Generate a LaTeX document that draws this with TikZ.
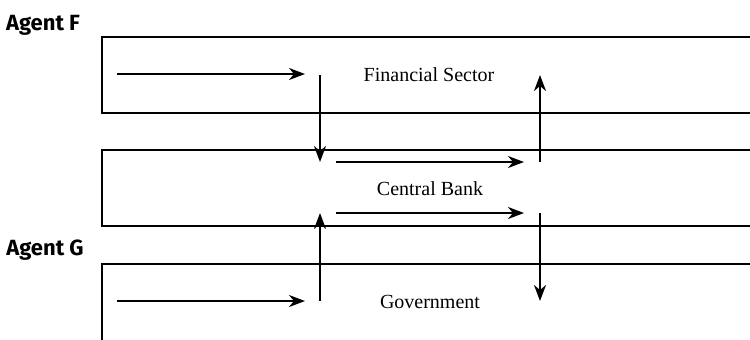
\documentclass[tikz,border=0pt]{standalone}
\usepackage{fontspec}
\setmainfont{Liberation Serif}
\newfontfamily\agentfont{Fira Sans}
\usetikzlibrary{arrows.meta}

\begin{document}
\begin{tikzpicture}[x=0.5pt, y=-0.5pt,
  band/.style={line width=0.7pt},
  flow/.style={line width=1pt, -{Stealth[length=8pt, width=6pt, inset=2.5pt]}},
  sector/.style={anchor=base, font=\fontsize{10}{12}\selectfont},
  agent/.style={anchor=base, font=\agentfont\bfseries\fontsize{11}{13}\selectfont}]
  \useasboundingbox (0,0) rectangle (750,339);

  % sector bands
  \draw[band] (752,37) -| (102,113) -- (752,113);
  \draw[band] (752,150) -| (102,226) -- (752,226);
  \draw[band] (752,264) -| (102,341);

  \node[agent] (agentF) at (43,30) {Agent F};
  \node[agent] (agentG) at (45,255) {Agent G};
  \node[sector] (fin) at (429,81) {Financial Sector};
  \node[sector] (cb) at (430,195) {Central Bank};
  \node[sector] (gov) at (430,308) {Government};

  \coordinate (f1) at (117,74);  \coordinate (f2) at (305,74);
  \coordinate (d1) at (320,75);  \coordinate (d2) at (320,162);
  \coordinate (c1) at (336,162); \coordinate (c2) at (524,162);
  \coordinate (u1) at (540,162); \coordinate (u2) at (540,75);
  \coordinate (c3) at (336,213); \coordinate (c4) at (524,213);
  \coordinate (u3) at (320,301); \coordinate (u4) at (320,213);
  \coordinate (d3) at (540,213); \coordinate (d4) at (540,301);
  \coordinate (g1) at (117,301); \coordinate (g2) at (305,301);

  \draw[flow] (f1) -- (f2);
  \draw[flow] (d1) -- (d2);
  \draw[flow] (c1) -- (c2);
  \draw[flow] (u1) -- (u2);
  \draw[flow] (c3) -- (c4);
  \draw[flow] (u3) -- (u4);
  \draw[flow] (d3) -- (d4);
  \draw[flow] (g1) -- (g2);
\end{tikzpicture}
\end{document}
